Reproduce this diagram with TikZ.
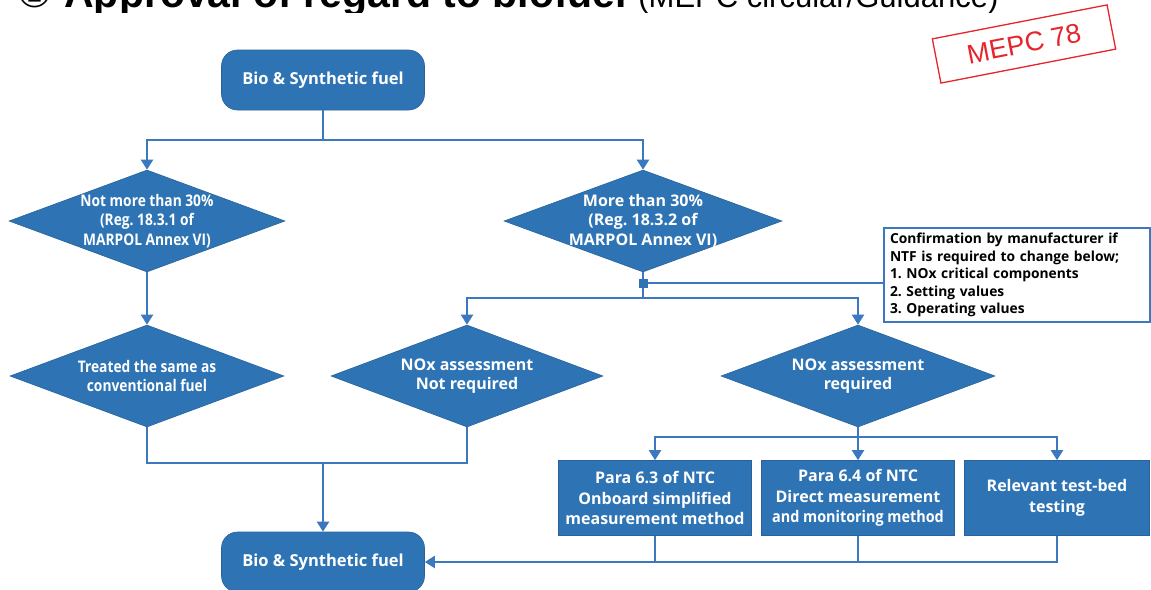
\documentclass[tikz,border=0pt]{standalone}
\usepackage{fontspec}
\setmainfont{Open Sans}
\newfontfamily\arialf{Liberation Sans}
\newfontfamily\dejavu{DejaVu Sans}
\usetikzlibrary{shapes.geometric,arrows.meta}
\definecolor{bfill}{HTML}{2E74B5}
\definecolor{bline}{HTML}{3B78BE}
\definecolor{stampred}{HTML}{E5242B}
\newcommand\narrowtxt[2][0.86]{\scalebox{#1}[1]{#2}}
\frenchspacing
\begin{document}
\begin{tikzpicture}[x=1pt,y=-1pt,
  line/.style={draw=bline, line width=2pt},
  arr/.style={line, -{Triangle[width=12pt,length=10pt]}},
  rbox/.style={rectangle, rounded corners=16pt, fill=bfill, draw=bfill!85!black, line width=0.6pt, minimum width=203pt, minimum height=60pt, text=white, inner sep=0pt, font=\bfseries\fontsize{16.5}{19}\selectfont},
  dia/.style={diamond, fill=bfill, draw=bfill!85!black, line width=0.6pt, inner sep=0pt, minimum width=#1, minimum height=102pt},
  dtext/.style={text=white, align=center, inner sep=0pt, font=\bfseries\fontsize{16}{19.5}\selectfont},
  sbox/.style={rectangle, fill=bfill, draw=bfill!85!black, line width=0.6pt, minimum height=75pt, text=white, align=center, inner sep=0pt, font=\bfseries\fontsize{16}{20.5}\selectfont},
]
\useasboundingbox (0,0) rectangle (1151,589);

% title (cut off at top)
\begin{scope}
\clip (0,0) rectangle (1151,12);
\node[anchor=base west, inner sep=0pt, font=\arialf\bfseries\fontsize{41}{41}\selectfont] (title) at (16,8)
  {{\dejavu\mdseries ①} Approval of regard to biofuel {\mdseries\fontsize{31}{31}\selectfont (MEPC circular/Guidance)}};
\end{scope}

% stamp
\node[draw=stampred, line width=1.3pt, rotate=11, minimum width=178pt, minimum height=45pt,
  text=stampred, inner sep=0pt, font=\arialf\fontsize{27}{27}\selectfont] (stamp) at (1024,44) {MEPC 78};

% nodes
\node[rbox] (top) at (323,80) {Bio \& Synthetic fuel};

\node[dia=276pt] (d1) at (147,221) {};
\node[dtext] (t1) at (147,221) {\narrowtxt{Not more than 30\%}\\\narrowtxt{(Reg. 18.3.1 of}\\\narrowtxt{MARPOL Annex VI)}};
\node[dia=278pt] (d2) at (643,221) {};
\node[dtext] (t2) at (643,221) {More than 30\%\\(Reg. 18.3.2 of\\MARPOL Annex VI)};

\node[dia=274pt] (d3) at (147,376) {};
\node[dtext] (t3) at (147,376) {\narrowtxt{Treated the same as}\\\narrowtxt{conventional fuel}};
\node[dia=272pt] (d4) at (467,376) {};
\node[dtext] (t4) at (467,376) {NOx assessment\\Not required};
\node[dia=274pt] (d5) at (858,376) {};
\node[dtext] (t5) at (858,376) {NOx assessment\\required};

\node[sbox, minimum width=193pt] (b1) at (655,498) {Para 6.3 of NTC\\Onboard simplified\\measurement method};
\node[sbox, minimum width=193pt] (b2) at (858,498) {Para 6.4 of NTC\\Direct measurement\\\narrowtxt[0.9]{and monitoring method}};
\node[sbox, minimum width=185pt] (b3) at (1057,498) {Relevant test-bed\\testing};

\node[rbox] (bot) at (323,562) {Bio \& Synthetic fuel};

\node[draw=bline, line width=1.6pt, fill=white, text=black, align=left,
  font=\bfseries\fontsize{13.8}{17.5}\selectfont, text width=254pt, inner xsep=6pt,
  minimum width=266pt, minimum height=94pt] (call) at (1017,275)
  {Confirmation by manufacturer if\\NTF is required to change below;\\1. NOx critical components\\2. Setting values\\3. Operating values};

% junctions
\coordinate (j1) at (323,140);
\coordinate (j2) at (643,298);
\coordinate (j3) at (323,463);
\coordinate (j4) at (858,437);

% connectors
\draw[line] (top.south) -- (j1);
\draw[arr] (j1) -| (d1.north);
\draw[arr] (j1) -| (d2.north);

\draw[line] (d2.south) -- (j2);
\node[fill=bfill, minimum size=9pt, inner sep=0pt] (mk) at (643,283) {};
\draw[line, line width=1.6pt] (mk.east) -- (mk -| call.west);
\draw[arr] (j2) -| (d4.north);
\draw[arr] (j2) -| (d5.north);

\draw[arr] (d1.south) -- (d3.north);

\draw[line] (d3.south) |- (j3) -| (d4.south);
\draw[arr] (j3) -- (bot.north);

\draw[line] (d5.south) -- (j4);
\draw[arr] (j4) -| (b1.north);
\draw[arr] (j4) -- (b2.north);
\draw[arr] (j4) -| (b3.north);

\draw[line] (b1.south) -- (b1.south |- bot.east);
\draw[line] (b2.south) -- (b2.south |- bot.east);
\draw[arr] (b3.south) |- (bot.east);
\end{tikzpicture}
\end{document}
